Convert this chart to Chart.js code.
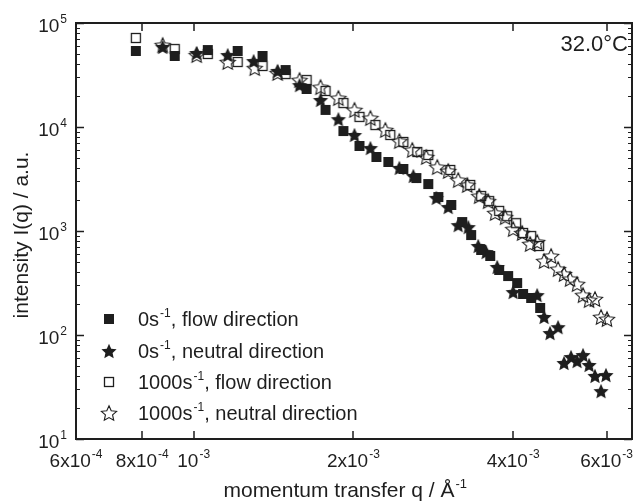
<!DOCTYPE html>
<html>
<head>
<meta charset="utf-8">
<script src="https://cdn.jsdelivr.net/npm/chart.js@4/dist/chart.umd.min.js"></script>
<style>
  html, body { margin: 0; padding: 0; background: #fff; }
  #wrap { width: 640px; height: 501px; position: relative; }
</style>
</head>
<body>
<div id="wrap"><canvas id="grafico"></canvas></div>
<script>
// q in 1/Angstrom, intensity in a.u.
const qFlow0 = [7.78e-4, 9.21e-4, 1.063e-3, 1.210e-3, 1.348e-3, 1.490e-3, 1.632e-3, 1.772e-3, 1.915e-3, 2.053e-3,
  2.210e-3, 2.327e-3, 2.484e-3, 2.628e-3, 2.768e-3, 2.891e-3, 3.058e-3, 3.207e-3, 3.334e-3, 3.482e-3,
  3.621e-3, 3.764e-3, 3.914e-3, 4.070e-3, 4.177e-3, 4.325e-3, 4.497e-3];
const iFlow0 = [53800, 48200, 55000, 53800, 48200, 35300, 23200, 14600, 9150, 6570,
  5150, 4610, 3950, 3230, 2830, 2120, 1780, 1220, 915, 657,
  575, 422, 369, 316, 248, 227, 182];

const qNeut0 = [8.74e-4, 1.013e-3, 1.159e-3, 1.297e-3, 1.439e-3, 1.583e-3, 1.734e-3, 1.874e-3, 2.009e-3, 2.153e-3,
  2.441e-3, 2.594e-3, 2.866e-3, 3.018e-3, 3.152e-3, 3.292e-3, 3.437e-3, 3.558e-3, 3.733e-3, 4.000e-3,
  4.439e-3, 4.575e-3, 4.695e-3, 4.861e-3, 4.989e-3, 5.143e-3, 5.279e-3, 5.418e-3, 5.561e-3, 5.706e-3,
  5.984e-3, 5.857e-3];
const iNeut0 = [58800, 51500, 49200, 43100, 34600, 25300, 18200, 11900, 8380, 6280,
  4040, 3380, 2080, 1700, 1140, 1090, 718, 628, 451, 259,
  242, 149, 104.5, 119, 53.8, 61.4, 56.2, 64.2, 51.5, 40.4,
  41.2, 28.9];

const qFlow1000 = [7.78e-4, 9.21e-4, 1.063e-3, 1.210e-3, 1.348e-3, 1.490e-3, 1.632e-3, 1.772e-3, 1.915e-3, 2.053e-3,
  2.200e-3, 2.347e-3, 2.484e-3, 2.639e-3, 2.768e-3, 3.045e-3, 3.320e-3, 3.482e-3, 3.605e-3, 3.764e-3,
  3.897e-3, 4.052e-3, 4.177e-3, 4.325e-3, 4.477e-3];
const iFlow1000 = [71800, 56200, 50400, 42200, 38600, 32300, 28300, 22200, 17000, 12500,
  10450, 8380, 7180, 5750, 5380, 3860, 2770, 2170, 1940, 1560,
  1390, 1190, 957, 895, 718];

const qNeut1000 = [8.74e-4, 1.013e-3, 1.159e-3, 1.303e-3, 1.439e-3, 1.583e-3, 1.734e-3, 1.874e-3, 2.009e-3, 2.153e-3,
  2.297e-3, 2.441e-3, 2.582e-3, 2.744e-3, 2.878e-3, 3.018e-3, 3.152e-3, 3.278e-3, 3.452e-3, 3.589e-3,
  3.700e-3, 3.864e-3, 4.000e-3, 4.159e-3, 4.306e-3, 4.439e-3, 4.575e-3, 4.716e-3, 4.861e-3, 4.989e-3,
  5.121e-3, 5.279e-3, 5.418e-3, 5.561e-3, 5.706e-3, 5.857e-3, 6.010e-3];
const iNeut1000 = [61400, 49200, 42200, 36900, 33100, 28300, 24200, 19000, 14600, 12200,
  9360, 7330, 6010, 5150, 4120, 3780, 3090, 2770, 2170, 1940,
  1490, 1360, 1045, 957, 750, 784, 515, 575, 431, 386,
  346, 309, 242, 217, 222, 149, 142.5];

// eixos
const xTickVals = [6e-4, 8e-4, 1e-3, 2e-3, 4e-3, 6e-3];
const xTickBase = ["6x10", "8x10", "10", "2x10", "4x10", "6x10"];
const xTickExp  = ["-4", "-4", "-3", "-3", "-3", "-3"];
const yTickVals = [1e1, 1e2, 1e3, 1e4, 1e5];
const yTickExp  = ["1", "2", "3", "4", "5"];

const legendBase = ["0s", "0s", "1000s", "1000s"];
const legendRest = [", flow direction", ", neutral direction", ", flow direction", ", neutral direction"];
const tempLabel = "32.0\u00B0C";

const FONT = "'Liberation Sans', Arial, Helvetica, sans-serif";
const INK = "#1e1e1e";

// marcadores
function quadrado(lado, cheio) {
  const c = document.createElement("canvas");
  c.width = c.height = lado + 4;
  const g = c.getContext("2d");
  if (cheio) {
    g.fillStyle = INK;
    g.fillRect(2, 2, lado, lado);
  } else {
    g.strokeStyle = INK;
    g.lineWidth = 1.3;
    g.strokeRect(2.5, 2.5, lado - 1, lado - 1);
  }
  return c;
}

function estrela(R, cheio) {
  const s = Math.ceil(2 * R + 4);
  const c = document.createElement("canvas");
  c.width = c.height = s;
  const g = c.getContext("2d");
  const r = R * 0.47;
  g.beginPath();
  for (let k = 0; k < 10; k++) {
    const rr = k % 2 === 0 ? R : r;
    const ang = -Math.PI / 2 + k * Math.PI / 5;
    const px = s / 2 + rr * Math.cos(ang);
    const py = s / 2 + 0.8 + rr * Math.sin(ang);
    if (k === 0) g.moveTo(px, py); else g.lineTo(px, py);
  }
  g.closePath();
  if (cheio) {
    g.fillStyle = INK;
    g.fill();
  } else {
    g.strokeStyle = INK;
    g.lineWidth = 1.1;
    g.stroke();
  }
  return c;
}

const mkFlow0 = quadrado(10, true);
const mkNeut0 = estrela(8, true);
const mkFlow1000 = quadrado(10, false);
const mkNeut1000 = estrela(8, false);
const marcadores = [mkFlow0, mkNeut0, mkFlow1000, mkNeut1000];

function pares(qs, is) {
  return qs.map((q, k) => ({ x: q, y: is[k] }));
}

function textoSup(ctx, base, exp, x, y, align, size) {
  ctx.font = size + "px " + FONT;
  const wb = ctx.measureText(base).width;
  const ss = Math.round(size * 0.62);
  ctx.font = ss + "px " + FONT;
  const we = ctx.measureText(exp).width;
  let x0 = x;
  if (align === "center") x0 = x - (wb + we + 1) / 2;
  if (align === "right") x0 = x - (wb + we + 1);
  ctx.textAlign = "left";
  ctx.textBaseline = "alphabetic";
  ctx.font = size + "px " + FONT;
  ctx.fillText(base, x0, y);
  ctx.font = ss + "px " + FONT;
  ctx.fillText(exp, x0 + wb + 1, y - size * 0.45);
  return x0 + wb + 1 + we;
}

const eixos = {
  id: "eixos",
  afterDraw(chart) {
    const ctx = chart.ctx;
    const a = chart.chartArea;
    const xs = chart.scales.x;
    const ys = chart.scales.y;
    ctx.save();
    ctx.fillStyle = INK;
    ctx.strokeStyle = INK;

    // ticks x (para dentro, baixo e topo)
    ctx.lineWidth = 1.5;
    xTickVals.forEach(v => {
      const px = Math.round(xs.getPixelForValue(v));
      ctx.beginPath();
      ctx.moveTo(px, a.bottom); ctx.lineTo(px, a.bottom - 8);
      ctx.moveTo(px, a.top); ctx.lineTo(px, a.top + 8);
      ctx.stroke();
    });

    // ticks y maiores e menores
    for (let d = 1; d <= 5; d++) {
      for (let m = 1; m <= 9; m++) {
        if (d === 5 && m > 1) break;
        const v = m * Math.pow(10, d);
        const py = Math.round(ys.getPixelForValue(v)) + 0.5;
        const len = m === 1 ? 8 : 4;
        ctx.lineWidth = m === 1 ? 1.5 : 1;
        ctx.beginPath();
        ctx.moveTo(a.left, py); ctx.lineTo(a.left + len, py);
        ctx.moveTo(a.right, py); ctx.lineTo(a.right - len, py);
        ctx.stroke();
      }
    }

    // moldura
    ctx.lineWidth = 2;
    ctx.strokeRect(a.left, a.top, a.right - a.left, a.bottom - a.top);

    // rotulos x
    xTickVals.forEach((v, k) => {
      const px = xs.getPixelForValue(v);
      textoSup(ctx, xTickBase[k], xTickExp[k], px, a.bottom + 28, "center", 19);
    });

    // rotulos y
    yTickVals.forEach((v, k) => {
      const py = ys.getPixelForValue(v);
      textoSup(ctx, "10", yTickExp[k], a.left - 9, py + 9, "right", 19);
    });

    // titulo x
    ctx.font = "21px " + FONT;
    const tx = "momentum transfer q / \u00C5";
    const wtx = ctx.measureText(tx).width;
    textoSup(ctx, tx, "-1", 339 - wtx / 2, 497, "left", 21);

    // titulo y
    ctx.save();
    ctx.translate(28, 235);
    ctx.rotate(-Math.PI / 2);
    ctx.font = "21px " + FONT;
    ctx.textAlign = "center";
    ctx.textBaseline = "alphabetic";
    ctx.fillText("intensity I(q) / a.u.", 0, 0);
    ctx.restore();

    // temperatura
    ctx.font = "22px " + FONT;
    ctx.textAlign = "right";
    ctx.textBaseline = "alphabetic";
    ctx.fillText(tempLabel, a.right - 4, 51);

    // legenda
    const linhas = [319, 351, 382, 413];
    linhas.forEach((ly, k) => {
      const img = marcadores[k];
      ctx.drawImage(img, Math.round(109 - img.width / 2), Math.round(ly - img.height / 2));
      const xe = textoSup(ctx, legendBase[k], "-1", 138, ly + 7, "left", 20);
      ctx.font = "20px " + FONT;
      ctx.textAlign = "left";
      ctx.fillText(legendRest[k], xe, ly + 7);
    });

    ctx.restore();
  }
};

new Chart(document.getElementById("grafico"), {
  type: "scatter",
  data: {
    datasets: [
      { label: "0s-1, flow direction", data: pares(qFlow0, iFlow0), pointStyle: mkFlow0 },
      { label: "0s-1, neutral direction", data: pares(qNeut0, iNeut0), pointStyle: mkNeut0 },
      { label: "1000s-1, flow direction", data: pares(qFlow1000, iFlow1000), pointStyle: mkFlow1000 },
      { label: "1000s-1, neutral direction", data: pares(qNeut1000, iNeut1000), pointStyle: mkNeut1000 }
    ]
  },
  options: {
    animation: false,
    responsive: true,
    maintainAspectRatio: false,
    layout: { padding: { left: 76, top: 23, right: 8, bottom: 62 } },
    plugins: { legend: { display: false }, tooltip: { enabled: false } },
    scales: {
      x: { type: "logarithmic", min: 6e-4, max: 6.7e-3, display: false },
      y: { type: "logarithmic", min: 10, max: 1e5, display: false }
    }
  },
  plugins: [eixos]
});
</script>
</body>
</html>
